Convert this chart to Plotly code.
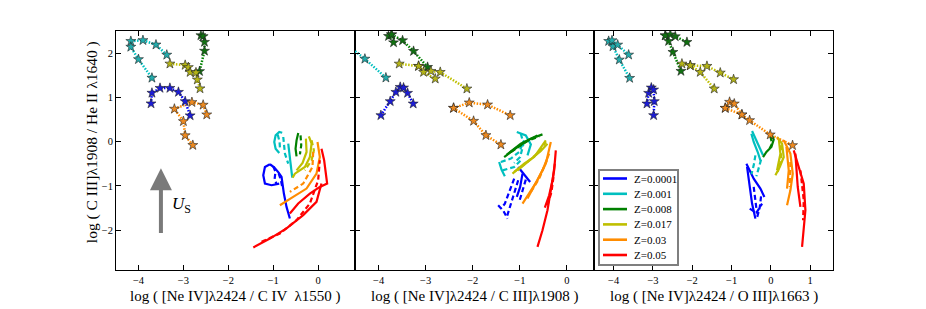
import plotly.graph_objects as go

# ---------------- metadata ----------------
Z_LABELS = ["Z=0.0001", "Z=0.001", "Z=0.008", "Z=0.017", "Z=0.03", "Z=0.05"]
LINE_COLORS = ["#0000ff", "#00bfbf", "#008000", "#bfbf00", "#ff8c00", "#ff0000"]
STAR_COLORS = ["#1c1cd6", "#22acac", "#117011", "#b4b416", "#ee8a20", "#e01010"]

Y_TITLE = "log ( C III]λ1908 / He II λ1640 )"
X_TITLES = ["log ( [Ne IV]λ2424 / C IV  λ1550 )",
            "log ( [Ne IV]λ2424 / C III]λ1908 )",
            "log ( [Ne IV]λ2424 / O III]λ1663 )"]
X_TICKS = [[-4, -3, -2, -1, 0], [-4, -3, -2, -1, 0], [-4, -3, -2, -1, 0, 1]]
Y_TICKS = [-2, -1, 0, 1, 2]

# ---------------- panel 1 : vs C IV ----------------
P1_PRE = [
    [[(-3.72, 0.86), (-3.70, 1.10), (-3.52, 1.21), (-3.30, 1.21), (-3.11, 1.12), (-2.96, 0.91), (-2.85, 0.59)]],
    [[(-3.37, 1.96), (-3.61, 2.19), (-3.90, 2.29), (-4.17, 2.27), (-4.17, 2.14), (-4.00, 1.86), (-3.70, 1.44)]],
    [[(-2.61, 2.40), (-2.56, 2.38), (-2.53, 2.25), (-2.53, 2.05), (-2.64, 1.59)]],
    [[(-3.30, 1.76), (-2.96, 1.73), (-2.89, 1.68), (-2.85, 1.57), (-2.72, 1.56), (-2.69, 1.40), (-2.63, 1.20)]],
    [[(-2.48, 0.61), (-2.56, 0.83), (-2.81, 0.89), (-3.20, 0.74), (-3.00, 0.46), (-2.96, 0.14), (-2.79, -0.08)]],
    [],
]
P1_SOLID = [
    [[(-1.074, -0.511), (-1.185, -0.571), (-1.222, -0.759), (-1.185, -0.947), (-1.037, -0.985), (-0.867, -0.947)],
     [(-1.074, -0.511), (-0.98, -0.58), (-0.88, -0.70), (-0.815, -0.797), (-0.763, -1.173), (-0.704, -1.474), (-0.63, -1.737)]],
    [[(-0.80, 0.20), (-0.866, 0.218), (-0.947, 0.142), (-0.977, -0.008), (-0.947, -0.159), (-0.866, -0.256)],
     [(-0.666, -0.046), (-0.629, -0.347), (-0.577, -0.813)]],
    [[(-0.443, 0.195), (-0.481, 0.03), (-0.503, -0.159), (-0.481, -0.332)]],
    [[(-0.207, 0.12), (-0.147, -0.046), (-0.184, -0.347), (-0.295, -0.572), (-0.518, -0.723), (-0.569, -0.813)],
     [(-0.273, 0.067), (-0.258, -0.234), (-0.347, -0.482), (-0.481, -0.648)]],
    [[(-0.015, -0.008), (0.037, -0.346), (-0.037, -0.722), (-0.259, -1.06), (-0.556, -1.248), (-0.852, -1.436)]],
    [[(0.074, -0.158), (0.133, -0.421), (0.2, -0.947), (0.037, -1.023), (-0.185, -1.173), (-0.444, -1.398), (-0.63, -1.624)],
     [(-1.444, -2.39), (-1.074, -2.19), (-0.704, -1.96), (-0.333, -1.66), (-0.037, -1.36), (0.074, -0.947)]],
]
P1_DASH = [
    [[(-1.0, -0.56), (-0.95, -0.68), (-0.97, -0.85), (-0.92, -0.97)],
     [(-0.88, -0.72), (-0.83, -0.87), (-0.80, -1.02)]],
    [[(-0.777, 0.105), (-0.762, -0.083), (-0.74, -0.27), (-0.666, -0.497)],
     [(-0.90, 0.16), (-0.86, 0.0), (-0.85, -0.15)]],
    [[(-0.392, 0.142), (-0.377, -0.083), (-0.406, -0.287)]],
    [[(-0.147, 0.029), (-0.095, -0.196), (-0.147, -0.422), (-0.295, -0.648)]],
    [[(-0.111, -0.233), (-0.126, -0.571), (-0.333, -0.947), (-0.63, -1.135)]],
    [[(-1.26, -2.26), (-0.852, -2.075), (-0.481, -1.774), (-0.185, -1.398), (0.0, -0.872), (0.037, -0.421)]],
]

# ---------------- panel 2 : vs C III] ----------------
P2_PRE = [
    [[(-3.95, 0.594), (-3.752, 0.91), (-3.632, 1.12), (-3.54, 1.233), (-3.469, 1.218), (-3.384, 1.098), (-3.264, 0.857)]],
    [[(-4.75, 2.25), (-4.29, 1.87), (-3.844, 1.444)]],
    [[(-3.788, 2.383), (-3.724, 2.421), (-3.681, 2.24)],
     [(-3.724, 2.421), (-3.49, 2.286), (-3.257, 2.045), (-2.959, 1.684)]],
    [[(-3.561, 1.759), (-3.15, 1.707), (-2.888, 1.594), (-2.69, 1.571), (-2.124, 1.195)],
     [(-3.15, 1.707), (-3.044, 1.571), (-2.796, 1.421)]],
    [[(-2.407, 0.759), (-2.074, 0.88), (-1.685, 0.835), (-1.204, 0.594)],
     [(-2.407, 0.759), (-1.982, 0.466), (-1.72, 0.143), (-1.402, -0.068)]],
    [],
]
P2_SOLID = [
    [[(-1.035, -0.572), (-0.922, -0.723), (-0.781, -0.911)],
     [(-0.943, -0.723), (-0.993, -1.024), (-1.064, -1.25)]],
    [[(-1.064, 0.218), (-0.873, 0.142), (-0.766, -0.061), (-0.837, -0.309)],
     [(-1.439, -0.46), (-1.389, -0.633), (-1.318, -0.783)]],
    [[(-1.333, -0.347), (-1.05, -0.121), (-0.766, 0.067), (-0.519, 0.165)],
     [(-1.276, -0.294), (-0.979, -0.046), (-0.625, 0.142)]],
    [[(-1.156, -0.723), (-0.908, -0.497), (-0.696, -0.347), (-0.519, -0.083), (-0.448, 0.03)],
     [(-1.05, -0.648), (-0.766, -0.407), (-0.554, -0.211), (-0.413, -0.046)]],
    [[(-0.943, -1.40), (-0.802, -1.174), (-0.625, -0.873), (-0.448, -0.497), (-0.342, -0.008)],
     [(-0.837, -1.287), (-0.682, -0.986), (-0.519, -0.648), (-0.377, -0.271)]],
    [[(-0.625, -2.378), (-0.519, -2.002), (-0.413, -1.55), (-0.342, -1.099), (-0.271, -0.648), (-0.236, -0.196)],
     [(-0.469, -1.49), (-0.377, -1.212), (-0.306, -0.873), (-0.257, -0.497)]],
]
P2_DASH = [
    [[(-1.12, -0.836), (-1.226, -1.137), (-1.318, -1.40), (-1.403, -1.513)],
     [(-1.035, -0.873), (-1.12, -1.174), (-1.205, -1.46), (-1.276, -1.701)],
     [(-0.873, -0.858), (-0.943, -1.137), (-1.014, -1.362)],
     [(-1.46, -1.438), (-1.347, -1.566), (-1.262, -1.739)]],
    [[(-1.403, -0.46), (-1.191, -0.384), (-1.014, -0.234), (-0.908, 0.03)],
     [(-1.368, -0.648), (-1.12, -0.572), (-0.979, -0.422)],
     [(-0.979, 0.18), (-0.922, -0.046), (-0.993, -0.347), (-1.12, -0.482)]],
    [[(-1.191, -0.234), (-0.837, 0.015), (-0.59, 0.12)]],
    [[(-1.12, -0.685), (-0.837, -0.46), (-0.59, -0.234), (-0.448, -0.008)]],
    [[(-0.766, -1.137), (-0.59, -0.836), (-0.427, -0.422)]],
    [[(-0.413, -1.438), (-0.328, -1.137), (-0.285, -0.798)]],
]

# ---------------- panel 3 : vs O III] ----------------
P3_PRE = [
    [[(-3.153, 0.857), (-3.11, 1.098), (-3.042, 1.218), (-2.983, 1.173), (-2.966, 0.91), (-2.983, 0.594)]],
    [[(-4.127, 2.271), (-4.017, 2.15), (-3.856, 1.85), (-3.593, 1.436)],
     [(-4.042, 2.286), (-3.898, 2.188), (-3.619, 1.962)]],
    [[(-2.686, 2.398), (-2.602, 2.271), (-2.492, 2.023), (-2.288, 1.594)],
     [(-2.686, 2.398), (-2.559, 2.421), (-2.432, 2.376), (-2.136, 2.248)]],
    [[(-2.263, 1.759), (-2.051, 1.722), (-1.627, 1.707), (-1.288, 1.556), (-0.949, 1.406)],
     [(-2.051, 1.722), (-1.797, 1.571), (-1.441, 1.195)]],
    [[(-1.161, 0.759), (-0.737, 0.609), (-0.542, 0.481), (-0.017, 0.158), (0.551, -0.083)],
     [(-1.161, 0.759), (-1.051, 0.895), (-0.932, 0.857), (-0.737, 0.609)]],
    [],
]
P3_SOLID = [
    [[(-0.623, -0.497), (-0.437, -0.836), (-0.267, -1.061), (-0.165, -1.25)],
     [(-0.606, -0.572), (-0.538, -1.024), (-0.479, -1.40), (-0.394, -1.739)]],
    [[(-0.479, 0.24), (-0.394, 0.067), (-0.284, -0.159), (-0.2, -0.309)],
     [(-0.496, 0.18), (-0.437, -0.008), (-0.335, -0.234), (-0.267, -0.422)]],
    [[(0.03, 0.142), (0.072, 0.045), (0.013, -0.121), (-0.114, -0.234), (-0.2, -0.347)]],
    [[(0.157, 0.105), (0.284, -0.046), (0.327, -0.347), (0.225, -0.572), (0.115, -0.761)],
     [(0.2, 0.067), (0.242, -0.271), (0.157, -0.648)]],
    [[(0.327, 0.03), (0.496, -0.271), (0.556, -0.723), (0.496, -1.099), (0.411, -1.438)],
     [(0.395, -0.121), (0.454, -0.648), (0.411, -1.061)]],
    [[(0.581, -0.196), (0.708, -0.572), (0.836, -0.949), (0.878, -1.55), (0.836, -2.002), (0.793, -2.378)],
     [(0.623, -0.271), (0.683, -1.024), (0.751, -1.475)]],
]
P3_DASH = [
    [[(-0.437, -1.024), (-0.394, -1.325), (-0.352, -1.626)],
     [(-0.25, -1.235), (-0.284, -1.49), (-0.352, -1.716)],
     [(-0.538, -1.513), (-0.369, -1.611), (-0.225, -1.40)]],
    [[(-0.394, -0.309), (-0.437, -0.535), (-0.496, -0.738)],
     [(-0.25, -0.407), (-0.301, -0.588), (-0.369, -0.783)]],
    [[(-0.013, 0.12), (0.03, -0.046), (-0.055, -0.196)]],
    [[(0.259, -0.083), (0.259, -0.422), (0.174, -0.685)]],
    [[(0.496, -0.46), (0.479, -1.024)]],
    [[(0.751, -0.648), (0.836, -1.325), (0.819, -1.776)]],
]

PANELS = [(P1_PRE, P1_SOLID, P1_DASH), (P2_PRE, P2_SOLID, P2_DASH), (P3_PRE, P3_SOLID, P3_DASH)]

# shock-velocity arrow (panel 1): tail and head in data units
ARROW_X = -3.5
ARROW_Y0, ARROW_Y1 = -2.1, -0.6

# ---------------- layout geometry ----------------
# the page body adds an 8 px margin, so figure pixels = page pixels - 8
OFF = 8
W, H = 926 - OFF, 309 - OFF
L, R, T, B = 116 - OFF, 833 - OFF, 31 - OFF, 270 - OFF
PW, PH = R - L, B - T
X_RANGES = [[-4.5, 0.82], [-4.5, 0.575], [-4.5, 1.58]]
Y_RANGE = [-2.9, 2.5]
FONT = "Liberation Serif"
# legend box (page pixels)
LEG_X0, LEG_X1, LEG_Y0, LEG_Y1 = 599, 678, 170, 265
LEG_ROW0, LEG_PITCH = 178.5, 15.3


def flatten(segments):
    xs, ys = [], []
    for seg in segments:
        for x, y in seg:
            xs.append(x)
            ys.append(y)
        xs.append(None)
        ys.append(None)
    return xs, ys


def px(xp):
    return (xp - OFF - L) / PW


def py(yp):
    return (B - (yp - OFF)) / PH


fig = go.Figure()
for p, (pre, solid, dash) in enumerate(PANELS):
    xa = "x" if p == 0 else f"x{p + 1}"
    ya = "y" if p == 0 else f"y{p + 1}"
    for k in range(6):
        xs, ys = flatten(solid[k])
        fig.add_trace(go.Scatter(x=xs, y=ys, mode="lines", xaxis=xa, yaxis=ya,
                                 line=dict(color=LINE_COLORS[k], width=2.2),
                                 name=Z_LABELS[k], showlegend=False))
        xs, ys = flatten(dash[k])
        fig.add_trace(go.Scatter(x=xs, y=ys, mode="lines", xaxis=xa, yaxis=ya,
                                 line=dict(color=LINE_COLORS[k], width=2.2, dash="5px,3px"),
                                 name=Z_LABELS[k], showlegend=False))
    for k in range(6):
        if not pre[k]:
            continue
        xs, ys = flatten(pre[k])
        fig.add_trace(go.Scatter(x=xs, y=ys, mode="lines", xaxis=xa, yaxis=ya,
                                 line=dict(color=LINE_COLORS[k], width=2.5, dash="1.5px,1.5px"),
                                 name=Z_LABELS[k], showlegend=False))
    for k in range(6):
        if not pre[k]:
            continue
        xs, ys = flatten(pre[k])
        fig.add_trace(go.Scatter(x=xs, y=ys, mode="markers", xaxis=xa, yaxis=ya,
                                 marker=dict(symbol="star", size=7.5, color=STAR_COLORS[k],
                                             line=dict(color="#222222", width=0.6)),
                                 name=Z_LABELS[k], showlegend=False))

axis_common = dict(showline=True, linecolor="black", linewidth=1, mirror="ticks",
                   ticks="inside", ticklen=5, tickwidth=1.2, tickcolor="black",
                   showgrid=False, zeroline=False,
                   tickfont=dict(family=FONT, size=10.5, color="black"))
layout = dict(width=W, height=H, margin=dict(l=L, r=W - R, t=T, b=H - B, autoexpand=False),
              paper_bgcolor="white", plot_bgcolor="white", showlegend=False,
              font=dict(family=FONT, color="black"))
for p in range(3):
    sx = "" if p == 0 else str(p + 1)
    layout["xaxis" + sx] = dict(axis_common, domain=[p / 3, (p + 1) / 3], range=X_RANGES[p],
                                tickvals=X_TICKS[p], anchor="y" + sx)
    layout["yaxis" + sx] = dict(axis_common, domain=[0, 1], range=Y_RANGE, tickvals=Y_TICKS,
                                anchor="x" + sx, showticklabels=(p == 0))
fig.update_layout(**layout)

ann, shapes = [], []
for p in range(3):
    ann.append(dict(text=X_TITLES[p], xref="paper", yref="paper", x=(p + 0.5) / 3, y=py(296),
                    xanchor="center", yanchor="middle", showarrow=False,
                    font=dict(family=FONT, size=15, color="black")))
ann.append(dict(text=Y_TITLE, xref="paper", yref="paper", x=px(92), y=0.535, textangle=-90,
                xanchor="center", yanchor="middle", showarrow=False,
                font=dict(family=FONT, size=15.5, color="black")))
ann.append(dict(text="", x=ARROW_X, y=ARROW_Y1, ax=ARROW_X, ay=ARROW_Y0, xref="x", yref="y",
                axref="x", ayref="y", showarrow=True, arrowhead=2, arrowsize=1.1, arrowwidth=4,
                arrowcolor="#7a7a7a"))
ann.append(dict(text="<i>U</i><sub>S</sub>", x=-3.3, y=-1.44, xref="x", yref="y", xanchor="left",
                showarrow=False, font=dict(family=FONT, size=17, color="black")))

# legend drawn as a framed key in the third panel
shapes.append(dict(type="rect", xref="paper", yref="paper", x0=px(LEG_X0), x1=px(LEG_X1),
                   y0=py(LEG_Y1), y1=py(LEG_Y0), line=dict(color="#7f7f7f", width=2),
                   fillcolor="white", layer="above"))
for k, (lab, col) in enumerate(zip(Z_LABELS, LINE_COLORS)):
    yy = py(LEG_ROW0 + k * LEG_PITCH)
    shapes.append(dict(type="line", xref="paper", yref="paper", x0=px(603), x1=px(627),
                       y0=yy, y1=yy, line=dict(color=col, width=2.6), layer="above"))
    ann.append(dict(text=lab, xref="paper", yref="paper", x=px(632), y=yy, xanchor="left",
                    yanchor="middle", showarrow=False,
                    font=dict(family=FONT, size=11, color="black")))
fig.update_layout(annotations=ann, shapes=shapes)

fig.write_html("out.html")
